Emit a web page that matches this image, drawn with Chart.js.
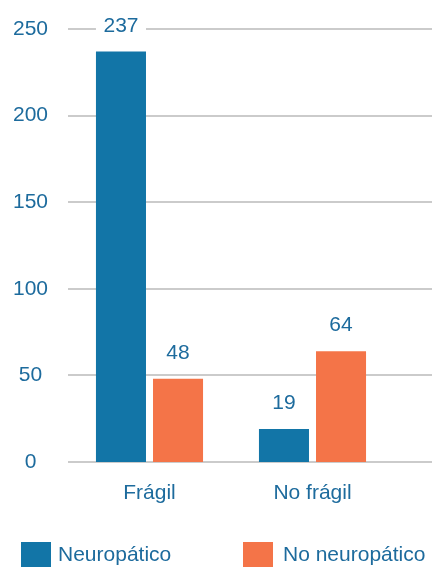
<!DOCTYPE html>
<html>
<head>
<meta charset="utf-8">
<script src="https://cdn.jsdelivr.net/npm/chart.js@4.4.1/dist/chart.umd.min.js"></script>
<style>
html,body{margin:0;padding:0;background:#fff;}
#wrap{position:relative;width:432px;height:567px;}
</style>
</head>
<body>
<div id="wrap"><canvas id="c" width="432" height="567"></canvas></div>
<script>
const categories = ['Frágil', 'No frágil'];
const seriesNames = ['Neuropático', 'No neuropático'];
const neuropatico = [237, 19];
const noNeuropatico = [48, 64];
const yTicks = [0, 50, 100, 150, 200, 250];

const BLUE = '#1275a7';
const ORANGE = '#f47448';
const TEXT = '#1d6b9d';
const GRID = '#cbcbcb';
const FONT = '"Liberation Sans", Arial, sans-serif';

const gridPlugin = {
  id: 'extGrid',
  beforeDatasetsDraw(chart) {
    const ctx = chart.ctx, y = chart.scales.y;
    ctx.save();
    ctx.strokeStyle = GRID;
    ctx.lineWidth = 2;
    y.ticks.forEach(t => {
      const py = Math.round(y.getPixelForValue(t.value));
      ctx.beginPath();
      ctx.moveTo(chart.chartArea.left, py);
      ctx.lineTo(chart.width, py);
      ctx.stroke();
    });
    ctx.restore();
  }
};

const labelPlugin = {
  id: 'valLabels',
  afterDatasetsDraw(chart) {
    const ctx = chart.ctx;
    ctx.save();
    ctx.font = '21px ' + FONT;
    ctx.textAlign = 'center';
    ctx.textBaseline = 'alphabetic';
    chart.data.datasets.forEach((ds, i) => {
      chart.getDatasetMeta(i).data.forEach((bar, j) => {
        const by = bar.y - 20;
        ctx.fillStyle = '#ffffff';
        ctx.fillRect(bar.x - bar.width / 2, by - 20, bar.width, 25);
        ctx.fillStyle = TEXT;
        ctx.fillText(String(ds.data[j]), bar.x, by);
      });
    });
    ctx.restore();
  }
};

const legendPlugin = {
  id: 'customLegend',
  afterDraw(chart) {
    const ctx = chart.ctx;
    const items = [{bx: 21, tx: 58}, {bx: 243, tx: 283}];
    ctx.save();
    ctx.font = '21px ' + FONT;
    ctx.textBaseline = 'middle';
    ctx.textAlign = 'left';
    chart.data.datasets.forEach((ds, i) => {
      const it = items[i];
      ctx.fillStyle = ds.backgroundColor;
      ctx.fillRect(it.bx, 542, 30, 25);
      ctx.fillStyle = TEXT;
      ctx.fillText(ds.label, it.tx, 555);
    });
    ctx.restore();
  }
};

new Chart(document.getElementById('c'), {
  type: 'bar',
  data: {
    labels: categories,
    datasets: [
      {label: seriesNames[0], data: neuropatico, backgroundColor: BLUE},
      {label: seriesNames[1], data: noNeuropatico, backgroundColor: ORANGE}
    ]
  },
  options: {
    responsive: false,
    animation: false,
    devicePixelRatio: 1,
    layout: {padding: {top: 29, right: 38, bottom: 63, left: 0}},
    datasets: {bar: {categoryPercentage: 0.7, barPercentage: 0.877}},
    plugins: {legend: {display: false}, tooltip: {enabled: false}},
    scales: {
      x: {
        grid: {display: false, drawTicks: false},
        border: {display: false},
        ticks: {color: TEXT, font: {family: FONT, size: 21}, padding: 19},
        afterFit(s) { s.height = 42; }
      },
      y: {
        min: 0, max: 250,
        afterBuildTicks(s) { s.ticks = yTicks.map(v => ({value: v})); },
        grid: {display: false, drawTicks: false},
        border: {display: false},
        ticks: {color: TEXT, font: {family: FONT, size: 21}, padding: 20, crossAlign: 'center'},
        afterFit(s) { s.width = 68; s.paddingTop = 0; s.paddingBottom = 0; }
      }
    }
  },
  plugins: [gridPlugin, labelPlugin, legendPlugin]
});
</script>
</body>
</html>
